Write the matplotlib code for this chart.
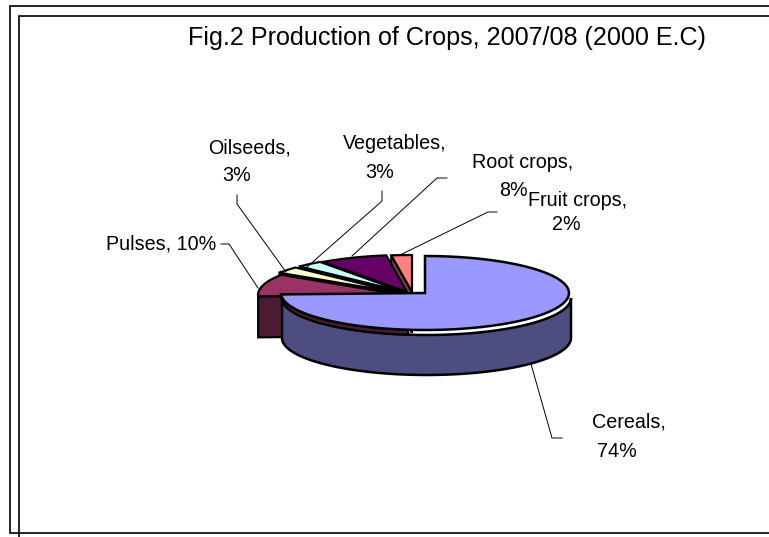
import numpy as np
import matplotlib
matplotlib.use('Agg')
import matplotlib.pyplot as plt
from matplotlib.patches import Polygon

plt.rcParams['font.family'] = ['Liberation Sans', 'DejaVu Sans']

title = 'Fig.2 Production of Crops, 2007/08 (2000 E.C)'
crops = ['Cereals', 'Pulses', 'Oilseeds', 'Vegetables', 'Root crops', 'Fruit crops']
shares = [74.4, 9.8, 2.9, 3.0, 7.6, 2.3]

top_colors = ['#9999FF', '#993366', '#FFFFCC', '#CCFFFF', '#660066', '#FF8080']
side_colors = ['#4D4D80', '#4D1A33', '#808066', '#668080', '#330033', '#804040']

# where each exploded slice has its apex, in pixels
apex_x = [425, 402, 400, 404, 407, 412]
apex_y = [293, 295, 293, 292, 292, 292]
RX, RY, DEPTH = 144, 37, 41

# name line and percent line of each label, pulses sits on one line
label_places = [
    ((629, 428), (617, 457)),
    None,
    ((250, 153), (237, 181)),
    ((395, 149), (380, 178)),
    ((523, 168), (513, 196)),
    ((578, 206), (566, 230)),
]
leaders = [
    [(562, 438), (552, 438), (531, 364)],
    [(221, 244), (229, 244), (258, 288)],
    [(237, 195), (237, 204), (286, 272)],
    [(382, 191), (382, 201), (307, 267)],
    [(447, 178), (437, 178), (352, 256)],
    [(497, 212), (488, 212), (400, 255)],
]


def rim(cx, cy, a0, a1, rx=RX, ry=RY):
    t = np.radians(np.linspace(a0, a1, 80))
    return np.column_stack([cx + rx * np.cos(t), cy - ry * np.sin(t)])


fig = plt.figure(figsize=(7.69, 5.37), dpi=100)
ax = fig.add_axes([0, 0, 1, 1])
ax.set_xlim(0, 769)
ax.set_ylim(537, 0)
ax.axis('off')

# double frame round the picture
for xs, ys in [([769, 9.5, 9.5, 769], [6, 6, 532.5, 532.5]),
               ([769, 19, 19], [16, 16, 537])]:
    ax.plot(xs, ys, color='black', lw=1.2, solid_joinstyle='miter')

# slice angles, clockwise from 12 o'clock
ends = 90 - np.cumsum(shares) * 3.6
starts = np.r_[90, ends[:-1]]

# back slices first, each one overlaps the one behind it
for i in [5, 4, 3, 2, 1]:
    cx, cy = apex_x[i], apex_y[i]
    edge = rim(cx, cy, starts[i], ends[i])
    # pulses shows its cut face at the left end, the others at their far edge
    outer = edge[0]
    face = [outer, (cx, cy), (cx, cy + DEPTH), (outer[0], outer[1] + DEPTH)]
    ax.add_patch(Polygon(face, fc=side_colors[i], ec='black', lw=1.5, joinstyle='miter'))
    ax.add_patch(Polygon(np.vstack([edge, [(cx, cy)]]), fc=top_colors[i], ec='black', lw=1.6,
                         joinstyle='miter'))

# cereals: wall, the gap under the top face, then the top face
upper = rim(426.5, 298, 0, -180, rx=144.5)
lower = rim(426.5, 338, -180, 0, rx=144.5)
ax.add_patch(Polygon(np.vstack([upper, lower]), fc=side_colors[0], ec='black', lw=1.8))
band_top = rim(apex_x[0], apex_y[0], -97, ends[0])
band_low = rim(426.5, 298, ends[0], -97, rx=144.5)
ax.add_patch(Polygon(np.vstack([band_top, band_low]), fc=side_colors[1], ec='black', lw=1.5))
ax.add_patch(Polygon(np.vstack([rim(apex_x[0], apex_y[0], starts[0], ends[0]), [(apex_x[0], apex_y[0])]]),
                     fc=top_colors[0], ec='black', lw=1.8, joinstyle='miter'))

for line in leaders:
    xs, ys = zip(*line)
    ax.plot(xs, ys, color='black', lw=0.7)

ax.text(188, 45, title, fontsize=18.1, color='black', ha='left', va='baseline')

label_size = 14.2
for i, crop in enumerate(crops):
    pct = f'{round(shares[i])}%'
    if label_places[i] is None:
        ax.text(106, 249, f'{crop}, {pct}', fontsize=label_size, ha='left', va='baseline')
        continue
    (x1, y1), (x2, y2) = label_places[i]
    ax.text(x1, y1, f'{crop},', fontsize=label_size, ha='center', va='baseline')
    ax.text(x2, y2, pct, fontsize=label_size, ha='center', va='baseline')

fig.savefig('out.png', dpi=100)
